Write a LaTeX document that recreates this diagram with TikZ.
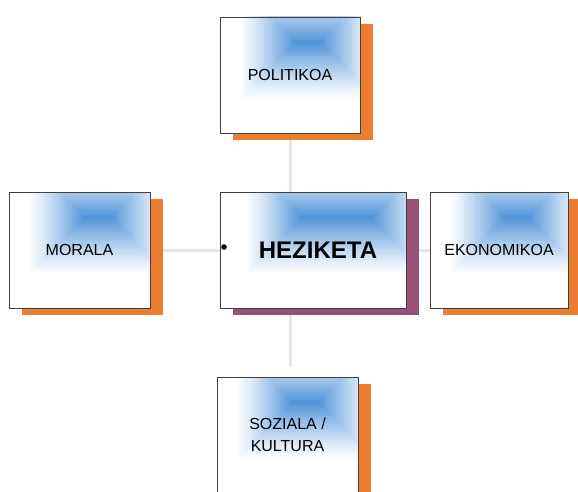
\documentclass[tikz,border=0pt]{standalone}
\usepackage{fontspec}
\setmainfont{Liberation Sans}
\usetikzlibrary{calc,shadows,backgrounds}

\definecolor{boxblue}{RGB}{78,146,216}
\definecolor{shadeorange}{RGB}{237,125,49}
\definecolor{shadepurple}{RGB}{151,80,118}
\definecolor{boxline}{RGB}{64,64,64}
\definecolor{linkgray}{RGB}{230,230,230}

\begin{document}
\begin{tikzpicture}[x=1pt,y=-1pt,
	topic/.style={rectangle,draw=boxline,line width=0.9pt,fill=white,
		minimum height=116pt,inner sep=0pt,align=center,
		font=\fontsize{16}{22}\selectfont,
		drop shadow={shadow xshift=13pt,shadow yshift=-7pt,fill=#1,opacity=1},
		path picture={
			\path (path picture bounding box.south west) coordinate (pa)
			      (path picture bounding box.north east) coordinate (pb);
			\foreach \i [evaluate=\i as \pc using 100*(\i/40)^1.2] in {0,...,40}
				\fill[boxblue!\pc!white] let \p1=(pa), \p2=(pb),
					\n1={\x1+0.13*(\x2-\x1)+\i*(\y2-\y1)/80},
					\n2={\y1+0.28*(\y2-\y1)+\i*(\y2-\y1)/80},
					\n3={\x2+0.13*(\x2-\x1)-\i*(\y2-\y1)/80},
					\n4={\y2+0.28*(\y2-\y1)-\i*(\y2-\y1)/80}
					in (\n1,\n2) rectangle (\n3,\n4);
		}},
	topic/.default=shadeorange,
	link/.style={draw=linkgray,line width=3pt}]

\useasboundingbox (0,0) rectangle (578,492);

%draw topic boxes
\node[topic,minimum width=140pt] (politikoa) at (290,75) {POLITIKOA};
\node[topic=shadepurple,minimum width=186pt,font=\fontsize{24}{28}\selectfont\bfseries] (heziketa) at (313,250) {\hspace*{10pt}HEZIKETA};
\node[topic,minimum width=141pt] (morala) at (79.5,250) {MORALA};
\node[topic,minimum width=138pt] (ekonomikoa) at (499,250) {EKONOMIKOA};
\node[topic,minimum width=141pt] (soziala) at (287.5,435) {SOZIALA /\\KULTURA};

%bullet in centre box
\fill ($(heziketa.west)+(4.5,-3)$) circle (2.8pt);

%draw links behind boxes
\begin{scope}[on background layer]
	\draw[link] (politikoa.south) -- (politikoa.south |- heziketa.north);
	\draw[link] (politikoa.south |- heziketa.south) -- ($(politikoa.south |- soziala.north)+(0,-10)$);
	\draw[link] (morala) -- (heziketa);
	\draw[link] (heziketa) -- (ekonomikoa);
\end{scope}

\end{tikzpicture}
\end{document}
